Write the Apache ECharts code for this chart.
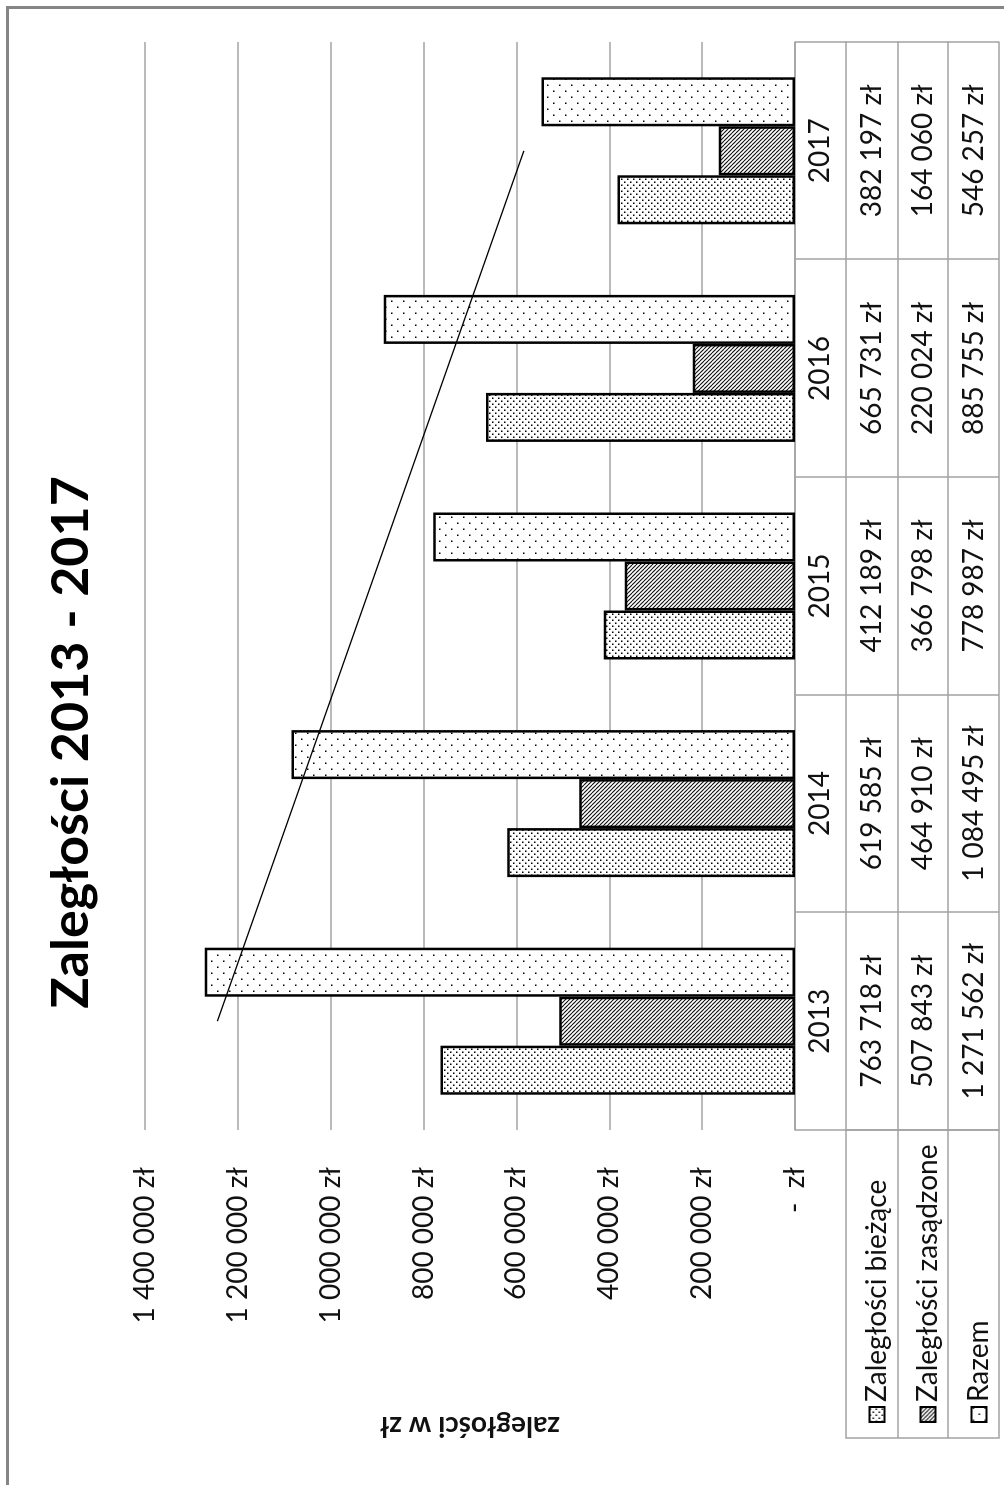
<!DOCTYPE html>
<html><head><meta charset="utf-8">
<script src="https://cdn.jsdelivr.net/npm/echarts@6/dist/echarts.min.js"></script>
<style>
html,body{margin:0;padding:0;width:1004px;height:1485px;overflow:hidden;background:#fff;}
#frame{position:absolute;left:6px;top:6px;width:1100px;height:1600px;border-left:3px solid #858585;border-top:3px solid #858585;}
#chart{position:absolute;left:0;top:0;width:1485px;height:1004px;transform-origin:0 0;transform:translate(0px,1485px) rotate(-90deg);}
</style></head><body>
<div id="frame"></div>
<div id="chart"></div>
<script>
// ---- data ----
const years = ['2013', '2014', '2015', '2016', '2017'];
const biezace = [763718, 619585, 412189, 665731, 382197];
const zasadzone = [507843, 464910, 366798, 220024, 164060];
const razem = [1271562, 1084495, 778987, 885755, 546257];
const trendRazem = [1244000, null, null, null, 584000]; // linear trendline ends
const seriesNames = ['Zaległości bieżące', 'Zaległości zasądzone', 'Razem'];
const chartTitle = 'Zaległości 2013 - 2017';
const valueAxisName = 'zaległości w zł';

// ---- helpers ----
function fmt(v) {
  if (v === 0) return '-  zł';
  return String(v).replace(/\B(?=(\d{3})+(?!\d))/g, ' ') + ' zł';
}
function pattern(kind) {
  const c = document.createElement('canvas');
  const g = c.getContext('2d');
  if (kind === 'dense') {
    c.width = 6; c.height = 6;
    g.fillStyle = '#fff'; g.fillRect(0, 0, 6, 6);
    g.fillStyle = '#000';
    g.fillRect(0, 0, 1.5, 1.5); g.fillRect(3, 3, 1.5, 1.5);
  } else if (kind === 'sparse') {
    c.width = 12; c.height = 12;
    g.fillStyle = '#fff'; g.fillRect(0, 0, 12, 12);
    g.fillStyle = '#000';
    g.fillRect(1, 1, 1.5, 1.5); g.fillRect(7, 7, 1.5, 1.5);
  } else {
    c.width = 4; c.height = 4;
    g.fillStyle = '#fff'; g.fillRect(0, 0, 4, 4);
    g.strokeStyle = '#111'; g.lineWidth = 1.2;
    g.beginPath();
    for (let k = -4; k <= 4; k += 4) { g.moveTo(0, k); g.lineTo(4, k + 4); }
    g.stroke();
  }
  return { image: c, repeat: 'repeat' };
}

const FONT = 'Lato';
const GRAY = '#a3a3a3';
const TXT = '#111';

const chart = echarts.init(document.getElementById('chart'), null, { renderer: 'canvas' });

function rowAxis(offset, values, margin) {
  return {
    type: 'category', data: years, gridIndex: 0, position: 'bottom', offset: offset,
    axisLine: { show: true, lineStyle: { color: GRAY, width: 1.5 } },
    axisTick: { show: false },
    axisLabel: values ? {
      show: true, interval: 0, margin: margin, verticalAlign: 'middle',
      fontFamily: FONT, fontSize: 28, color: TXT,
      formatter: function (v, i) { return fmt(values[i]); }
    } : { show: false },
    splitLine: { show: false }
  };
}

const option = {
  animation: false,
  textStyle: { fontFamily: FONT },
  title: {
    text: chartTitle, left: 'center', top: 40,
    textStyle: { fontFamily: FONT, fontSize: 52, fontWeight: 'bold', color: '#000' }
  },
  grid: { left: 355, right: 42, top: 145, bottom: 209, containLabel: false },
  legend: {
    data: seriesNames, orient: 'vertical', left: 57, top: 857,
    icon: 'rect', itemWidth: 15, itemHeight: 15, itemGap: 21,
    itemStyle: { borderColor: '#000', borderWidth: 2 },
    textStyle: { fontFamily: FONT, fontSize: 28, lineHeight: 30, color: TXT }
  },
  xAxis: [
    {
      type: 'category', data: years, gridIndex: 0, position: 'bottom', offset: 0,
      axisLine: { show: true, lineStyle: { color: GRAY, width: 1.5 } },
      axisTick: { show: true, interval: 0, length: 204, lineStyle: { color: GRAY, width: 1.5 } },
      axisLabel: { show: true, interval: 0, margin: 25, verticalAlign: 'middle', fontFamily: FONT, fontSize: 28, color: TXT },
      splitLine: { show: false }
    },
    rowAxis(51, biezace, 26),
    rowAxis(103, zasadzone, 25),
    rowAxis(153, razem, 26),
    rowAxis(204, null, 0)
  ],
  yAxis: {
    type: 'value', min: 0, max: 1400000, interval: 200000,
    axisLine: { show: false }, axisTick: { show: false },
    splitLine: { show: true, lineStyle: { color: GRAY, width: 1.5 } },
    axisLabel: { margin: 37, fontFamily: FONT, fontSize: 28, color: TXT, formatter: fmt },
    name: valueAxisName, nameLocation: 'middle', nameRotate: 90, nameGap: 282,
    nameTextStyle: { fontFamily: FONT, fontSize: 28, fontWeight: 'bold', color: TXT }
  },
  graphic: [
    { type: 'rect', shape: { x: 47, y: 846, width: 308, height: 153 }, style: { fill: null, stroke: GRAY, lineWidth: 1.5 }, silent: true },
    { type: 'line', shape: { x1: 47, y1: 898, x2: 355, y2: 898 }, style: { stroke: GRAY, lineWidth: 1.5 }, silent: true },
    { type: 'line', shape: { x1: 47, y1: 948, x2: 355, y2: 948 }, style: { stroke: GRAY, lineWidth: 1.5 }, silent: true }
  ],
  series: [
    { name: seriesNames[0], type: 'bar', data: biezace, barWidth: 49, barGap: '0%',
      itemStyle: { color: pattern('dense'), borderColor: '#000', borderWidth: 2.5 } },
    { name: seriesNames[1], type: 'bar', data: zasadzone, barWidth: 49, barGap: '0%',
      itemStyle: { color: pattern('hatch'), borderColor: '#000', borderWidth: 2.5 } },
    { name: seriesNames[2], type: 'bar', data: razem, barWidth: 49, barGap: '0%',
      itemStyle: { color: pattern('sparse'), borderColor: '#000', borderWidth: 2.5 } },
    { name: 'Trend', type: 'line', data: trendRazem, connectNulls: true, symbol: 'none', silent: true, z: 5,
      lineStyle: { color: '#000', width: 1.2 } }
  ]
};
chart.setOption(option);
</script>
</body></html>
